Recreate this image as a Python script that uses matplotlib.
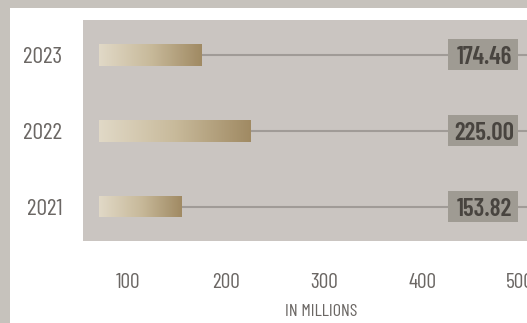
import numpy as np
import matplotlib
matplotlib.use('Agg')
import matplotlib.pyplot as plt
from matplotlib.patches import Rectangle
from matplotlib.colors import LinearSegmentedColormap
import matplotlib.transforms as mtransforms

years = ['2021', '2022', '2023']
values = [153.82, 225.00, 174.46]
value_labels = ['153.82', '225.00', '174.46']
ticks = [100, 200, 300, 400, 500]
tick_labels = ['100', '200', '300', '400', '500']

plt.rcParams['font.family'] = ['Barlow Condensed', 'DejaVu Sans']

fig = plt.figure(figsize=(5.27, 3.23), dpi=100)
fig.patch.set_facecolor('#c6c2bc')
# white card inside the gray frame
fig.patches.append(Rectangle((10/527, 0), 1, (323-8)/323, transform=fig.transFigure,
                             facecolor='white', edgecolor='none', zorder=-5))

ax = fig.add_axes([83/527, (323-241)/323, (527-83)/527, 221/323])
ax.set_facecolor('#cac5c1')
for s in ax.spines.values():
    s.set_visible(False)

ax.set_xlim(54, 507)
ax.set_ylim(-0.455, 2.46)

base = 70
ypos = np.arange(len(years))
ax.hlines(ypos, values, 507, color='#a09b97', lw=1.5, zorder=1)

bars = ax.barh(ypos, [v - base for v in values], left=base, height=0.29,
               color='none', edgecolor='none', zorder=2)
grad = np.linspace(0, 1, 256).reshape(1, -1)
cmap = LinearSegmentedColormap.from_list('gold', ['#e1d9c7', '#c8ba9b', '#a08a63'])
for b in bars:
    x0, y0 = b.get_x(), b.get_y()
    im = ax.imshow(grad, cmap=cmap, aspect='auto', zorder=2,
                   extent=[x0, x0 + b.get_width(), y0, y0 + b.get_height()])
    im.set_clip_path(b)

# value boxes at the right
trans = mtransforms.blended_transform_factory(ax.transAxes, ax.transData)
box_h = 31 / 75.75
for y, lab in zip(ypos, value_labels):
    ax.add_patch(Rectangle((365/444, y - box_h/2), 70/444, box_h, transform=trans,
                           facecolor='#9f9b93', edgecolor='none', zorder=3))
    ax.text(0.903, y, lab, transform=trans, ha='center', va='center_baseline', fontsize=18,
            fontweight='semibold', color='#48443f', zorder=4)

ax.set_yticks(ypos)
ax.set_yticklabels(years, fontsize=17, color='#6b6764')
ax.set_xticks(ticks)
ax.set_xticklabels(tick_labels, fontsize=15.5, color='#6b6764')
ax.tick_params(length=0)
ax.tick_params(axis='y', pad=15)
ax.tick_params(axis='x', pad=23)
for t in ax.get_xticklabels():
    t.set_clip_on(False)
ax.set_xlabel('IN MILLIONS', fontsize=13, color='#6b6764')
ax.xaxis.set_label_coords((321 - 83) / 444, -0.285)

fig.savefig('out.png', dpi=100, facecolor=fig.get_facecolor())
